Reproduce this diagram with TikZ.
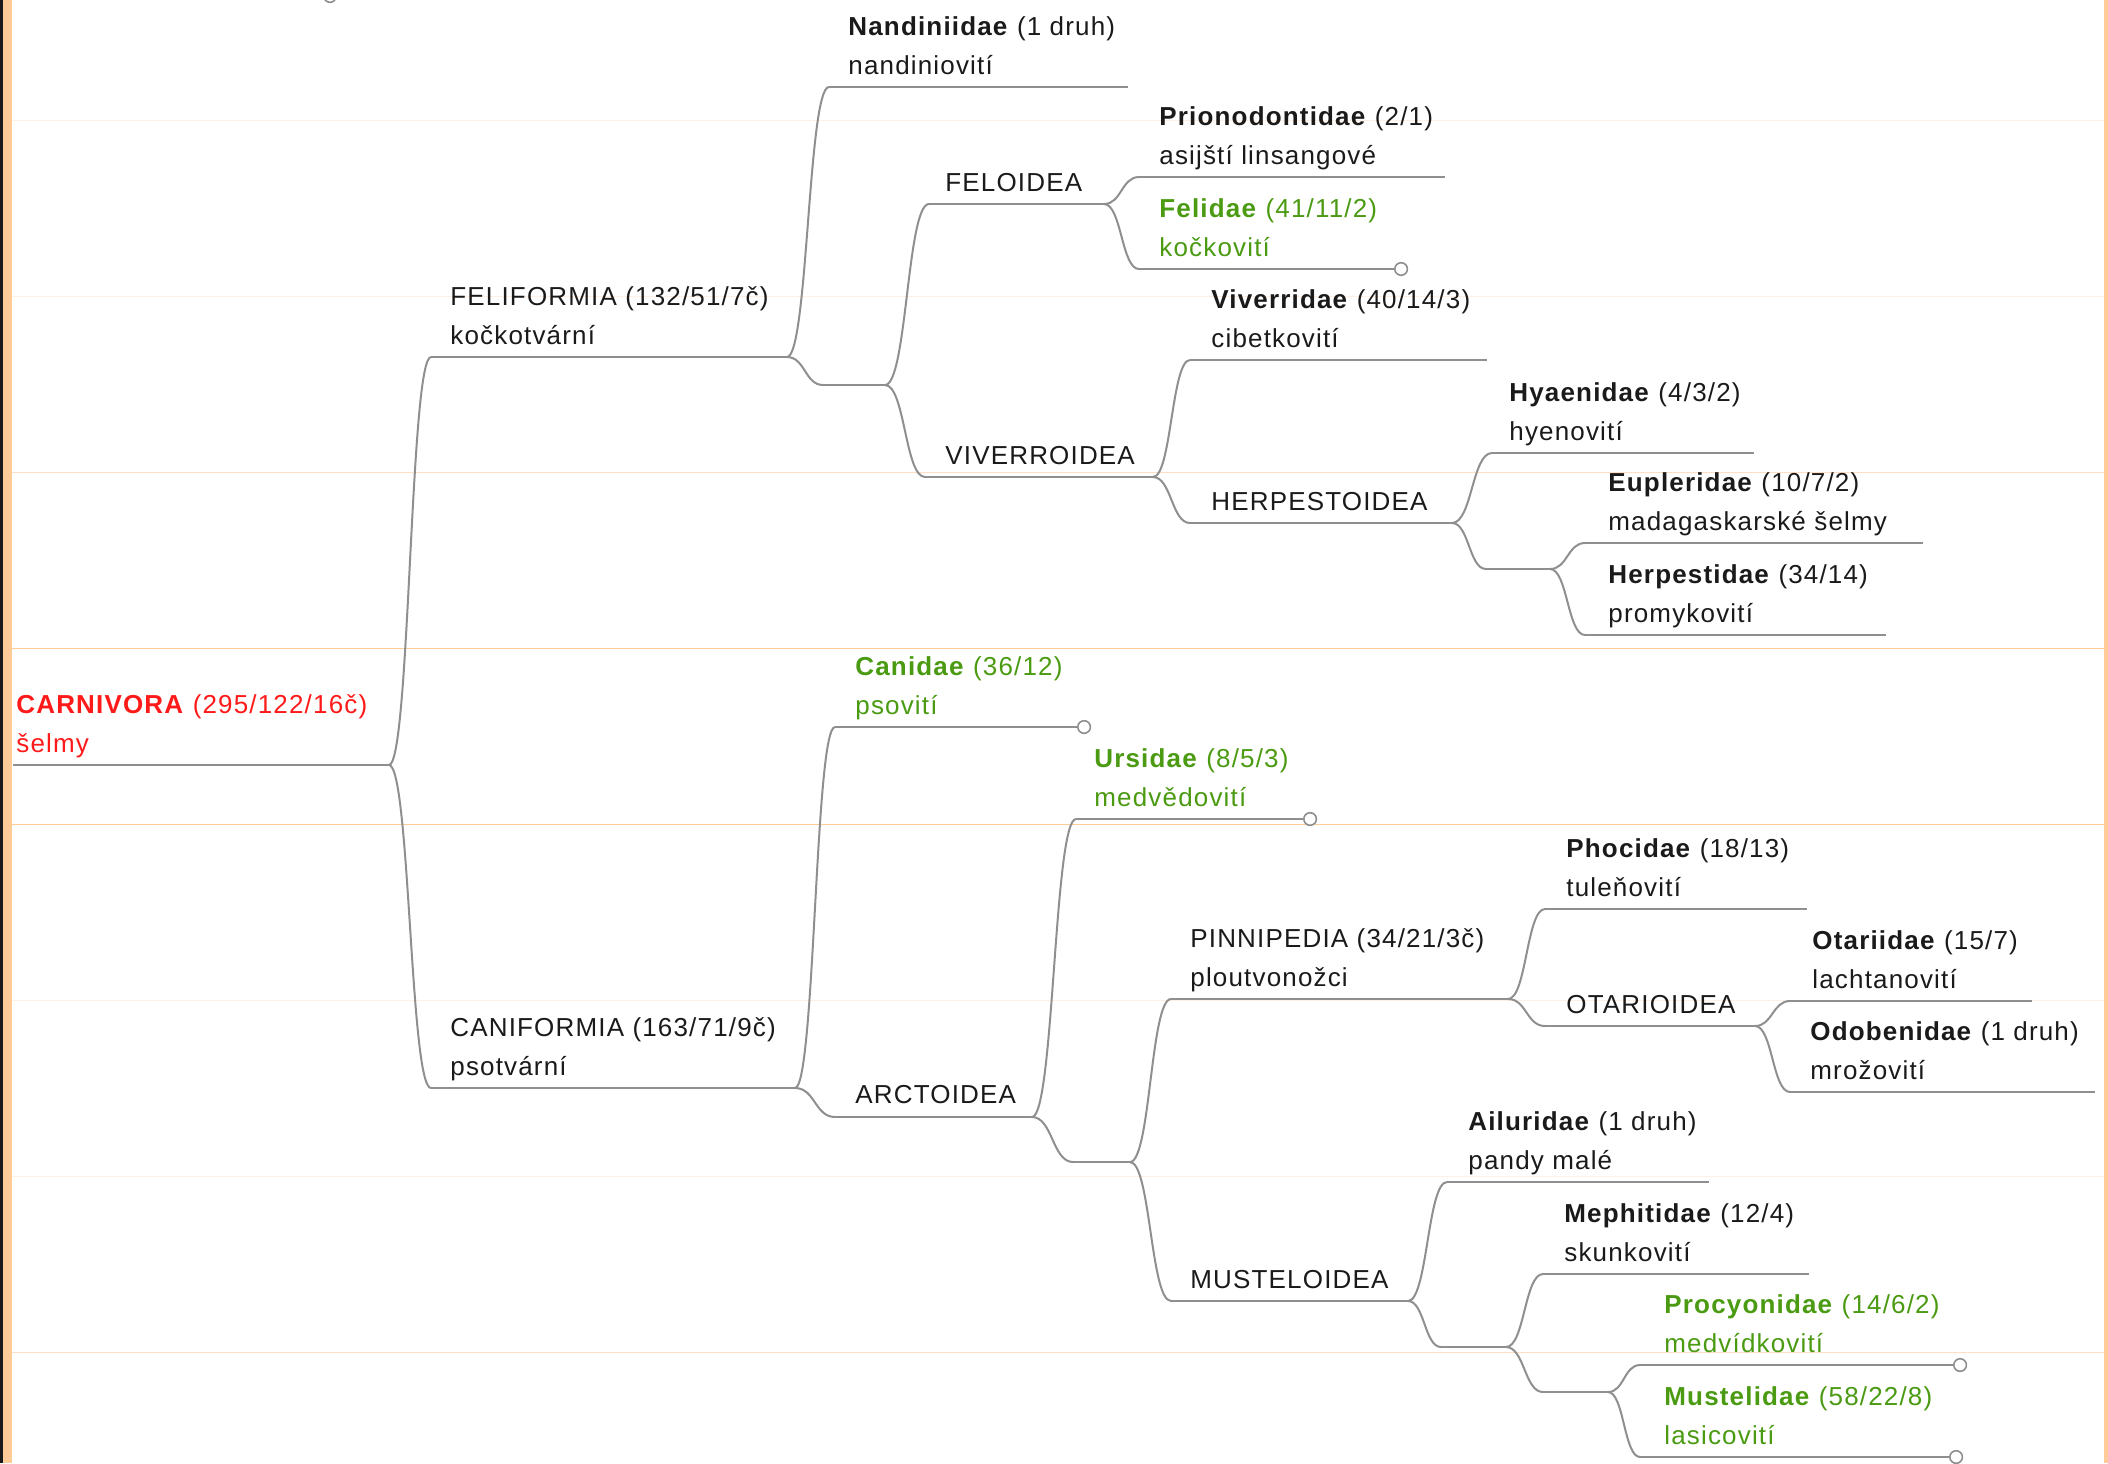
\documentclass[tikz,border=0pt]{standalone}
\usepackage{fontspec}
\setmainfont{Liberation Sans}[LetterSpace=4.5]
\usetikzlibrary{calc}
\definecolor{ink}{HTML}{1A1A1A}
\definecolor{twig}{HTML}{8F8F8F}
\definecolor{leaf}{HTML}{4A9A12}
\definecolor{root}{HTML}{FF1A1A}
\definecolor{band}{HTML}{FFCC99}
\definecolor{mid}{HTML}{FDDFC4}
\definecolor{faint}{HTML}{FEF0E4}

\begin{document}
\begin{tikzpicture}[x=0.5pt,y=-0.5pt,font=\fontsize{13}{19.5}\selectfont,
  taxon/.style={anchor=base west,inner sep=0pt,align=left,text=ink},
  branch/.style={draw=twig,line width=1pt},
  link/.style={draw=twig,line width=1pt,to path={.. controls ($(\tikztostart)!0.5!(\tikztotarget|-\tikztostart)$) and ($(\tikztotarget)!0.5!(\tikztostart|-\tikztotarget)$) .. (\tikztotarget)}},
  tip/.style={circle,draw=twig,fill=white,line width=0.8pt,minimum size=6.3pt,inner sep=0pt,anchor=west}]
  \useasboundingbox (0,0) rectangle (2108,1463);
  \clip (0,0) rectangle (2108,1463);
  % page frame and guide lines
  \fill[ink] (0,0) rectangle (3,1463);
  \fill[band] (3,0) rectangle (12,1463);
  \fill[band] (2104,0) rectangle (2108,1463);
  \foreach \y in {120,296,1000,1176} \draw[faint,line width=0.5pt] (12,\y) -- (2104,\y);
  \foreach \y in {472,1352} \draw[mid,line width=0.5pt] (12,\y) -- (2104,\y);
  \foreach \y in {648,824} \draw[band,line width=0.5pt] (12,\y) -- (2104,\y);

  % underlines: name/start/end/height
  \foreach \n/\xs/\xe/\y in {carn/13/389/765, feli/431/787/357, cani/431/795/1088,
      nand/829/1128/87, g1/823/885/385, feloid/929/1104/204, viverroid/925/1153/477,
      prion/1139/1445/177, felid/1139/1394/269, viverr/1190/1487/360, herp/1190/1452/523,
      hyaen/1492/1754/453, g2/1486/1550/569, euple/1585/1923/543, herpid/1585/1886/635,
      canid/835/1077/727, arct/835/1032/1117, ursid/1076/1303/819, g3/1073/1130/1162,
      pinn/1171/1508/999, must/1171/1408/1301, phoc/1545/1807/909, otar/1545/1755/1026,
      otari/1790/2032/1001, odob/1790/2095/1092, ailur/1447/1709/1182, g4/1441/1506/1347,
      meph/1543/1809/1274, g5/1543/1608/1392, procy/1640/1953/1365, mustel/1640/1949/1457} {
    \coordinate (\n-s) at (\xs,\y);
    \coordinate (\n-e) at (\xe,\y);
    \draw[branch] (\n-s) -- (\n-e);
  }

  % branches
  \foreach \a/\b in {carn/feli, carn/cani, feli/nand, feli/g1, g1/feloid, g1/viverroid,
      feloid/prion, feloid/felid, viverroid/viverr, viverroid/herp, herp/hyaen, herp/g2,
      g2/euple, g2/herpid, cani/canid, cani/arct, arct/ursid, arct/g3, g3/pinn, g3/must,
      pinn/phoc, pinn/otar, otar/otari, otar/odob, must/ailur, must/g4, g4/meph, g4/g5,
      g5/procy, g5/mustel}
    \draw[link] (\a-e) to (\b-s);

  \node[taxon,text=root] (carn) at (16,752) {\textbf{CARNIVORA} (295/122/16č)\\šelmy};
  \node[taxon] (feli) at (450,344) {FELIFORMIA (132/51/7č)\\kočkotvární};
  \node[taxon] (cani) at (450,1075) {CANIFORMIA (163/71/9č)\\psotvární};
  \node[taxon] (nand) at (848,74) {\textbf{Nandiniidae} (1 druh)\\nandiniovití};
  \node[taxon] (feloid) at (945,191) {FELOIDEA};
  \node[taxon] (viverroid) at (945,464) {VIVERROIDEA};
  \node[taxon] (prion) at (1159,164) {\textbf{Prionodontidae} (2/1)\\asijští linsangové};
  \node[taxon,text=leaf] (felid) at (1159,256) {\textbf{Felidae} (41/11/2)\\kočkovití};
  \node[taxon] (viverr) at (1211,347) {\textbf{Viverridae} (40/14/3)\\cibetkovití};
  \node[taxon] (herp) at (1211,510) {HERPESTOIDEA};
  \node[taxon] (hyaen) at (1509,440) {\textbf{Hyaenidae} (4/3/2)\\hyenovití};
  \node[taxon] (euple) at (1608,530) {\textbf{Eupleridae} (10/7/2)\\madagaskarské šelmy};
  \node[taxon] (herpid) at (1608,622) {\textbf{Herpestidae} (34/14)\\promykovití};
  \node[taxon,text=leaf] (canid) at (855,714) {\textbf{Canidae} (36/12)\\psovití};
  \node[taxon] (arct) at (855,1103) {ARCTOIDEA};
  \node[taxon,text=leaf] (ursid) at (1094,806) {\textbf{Ursidae} (8/5/3)\\medvědovití};
  \node[taxon] (pinn) at (1190,986) {PINNIPEDIA (34/21/3č)\\ploutvonožci};
  \node[taxon] (must) at (1190,1288) {MUSTELOIDEA};
  \node[taxon] (phoc) at (1566,896) {\textbf{Phocidae} (18/13)\\tuleňovití};
  \node[taxon] (otar) at (1566,1013) {OTARIOIDEA};
  \node[taxon] (otari) at (1812,988) {\textbf{Otariidae} (15/7)\\lachtanovití};
  \node[taxon] (odob) at (1810,1079) {\textbf{Odobenidae} (1 druh)\\mrožovití};
  \node[taxon] (ailur) at (1468,1169) {\textbf{Ailuridae} (1 druh)\\pandy malé};
  \node[taxon] (meph) at (1564,1261) {\textbf{Mephitidae} (12/4)\\skunkovití};
  \node[taxon,text=leaf] (procy) at (1664,1352) {\textbf{Procyonidae} (14/6/2)\\medvídkovití};
  \node[taxon,text=leaf] (mustel) at (1664,1444) {\textbf{Mustelidae} (58/22/8)\\lasicovití};

  % collapsed ends
  \foreach \n in {felid,canid,ursid,procy,mustel}
    \node[tip] (\n-t) at (\n-e) {};
  \node[tip,anchor=center] (stub) at (330,-4) {};
\end{tikzpicture}
\end{document}
